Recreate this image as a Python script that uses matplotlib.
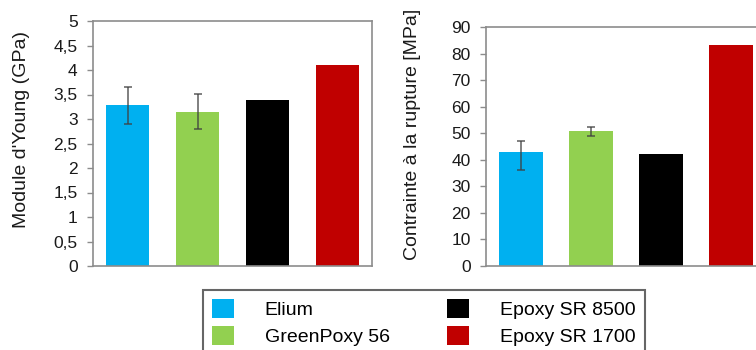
import matplotlib
matplotlib.use("Agg")
import matplotlib.pyplot as plt
from matplotlib.patches import Patch
from matplotlib.ticker import FuncFormatter, MultipleLocator

plt.rcParams['font.family'] = ['Liberation Sans', 'DejaVu Sans']

materials = ["Elium", "GreenPoxy 56", "Epoxy SR 8500", "Epoxy SR 1700"]
colors = ["#00B0F0", "#92D050", "#000000", "#C00000"]

young_modulus = [3.29, 3.14, 3.39, 4.10]
young_err_low = [0.39, 0.35, 0.0, 0.0]
young_err_high = [0.36, 0.37, 0.0, 0.0]

stress = [43.0, 50.8, 42.2, 83.2]
stress_err_low = [6.9, 1.8, 0.0, 0.0]
stress_err_high = [4.1, 1.6, 0.0, 0.0]

W, H = 756, 350
fig = plt.figure(figsize=(W / 100, H / 100), dpi=100)

spine_col = "#8c8c8c"
tick_fs = 12.5
label_fs = 14


def comma(v, _):
    return f"{v:g}".replace(".", ",")


def panel(rect, values, lo, hi, ymax, step, ylabel, label_xy):
    ax = fig.add_axes(rect)
    x = list(range(len(values)))
    ax.bar(x, values, width=0.62, color=colors, zorder=2)
    has_err = [i for i in x if lo[i] > 0 or hi[i] > 0]
    ax.errorbar([x[i] for i in has_err], [values[i] for i in has_err],
                yerr=[[lo[i] for i in has_err], [hi[i] for i in has_err]],
                fmt="none", ecolor="#404040", elinewidth=1.1, capsize=3,
                capthick=1.1, alpha=0.85, zorder=3)
    ax.set_xlim(-0.5, len(values) - 0.5)
    ax.set_ylim(0, ymax)
    ax.yaxis.set_major_locator(MultipleLocator(step))
    ax.yaxis.set_major_formatter(FuncFormatter(comma))
    ax.set_xticks([])
    for s in ax.spines.values():
        s.set_color(spine_col)
        s.set_linewidth(1.2)
    ax.tick_params(axis="y", direction="out", length=4, width=1, color=spine_col,
                   labelsize=tick_fs, labelcolor="#1a1a1a", pad=7)
    ax.set_ylabel(ylabel, fontsize=label_fs, color="#1a1a1a",
                  va="center", ha="center")
    ax.yaxis.set_label_coords(*label_xy)
    return ax


ax1 = panel([93 / W, 84 / H, 279 / W, 245 / H], young_modulus,
            young_err_low, young_err_high, 5, 0.5, "Module d'Young (GPa)",
            (-0.258, 0.559))
ax2 = panel([486 / W, 84 / H, 280 / W, 239 / H], stress,
            stress_err_low, stress_err_high, 90, 10, "Contrainte à la rupture [MPa]",
            (-0.261, 0.552))

handles = [Patch(facecolor=c, edgecolor="none") for c in colors]
leg = fig.legend(handles, materials, ncol=2, loc="upper left",
                 bbox_to_anchor=(203 / W, 1 - 290 / H), borderaxespad=0,
                 fontsize=14, frameon=True, fancybox=False,
                 handlelength=1.13, handleheight=1.13, handletextpad=1.6,
                 columnspacing=2.95, labelspacing=0.35, borderpad=0.45)
leg.get_frame().set_edgecolor("#404040")
leg.get_frame().set_linewidth(1.5)

fig.savefig("out.png", dpi=100)
